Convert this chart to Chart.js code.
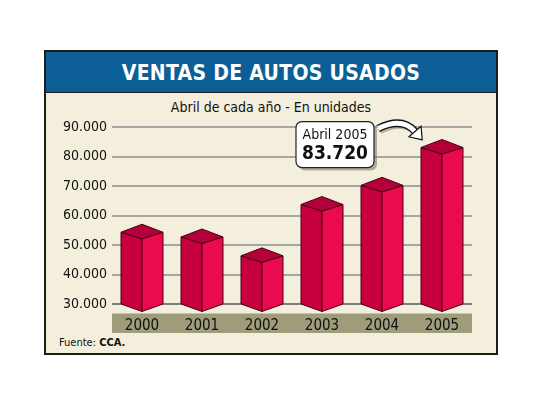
<!DOCTYPE html>
<html>
<head>
<meta charset="utf-8">
<script src="https://cdn.jsdelivr.net/npm/chart.js@4.4.1/dist/chart.umd.min.js"></script>
<style>
  html, body { margin: 0; padding: 0; background: #ffffff; }
  #wrap { position: relative; width: 540px; height: 405px; }
  #frame {
    position: absolute; left: 44px; top: 50px; width: 450px; height: 301px;
    border: 2px solid #1c1c1c; background: #f3efdc;
  }
  #band {
    position: absolute; left: 0; top: 0; width: 450px; height: 40px;
    background: #0b5f96; border-bottom: 1px solid #1c1c1c;
    color: #ffffff; font: bold 21px "DejaVu Sans Condensed", "DejaVu Sans", sans-serif;
    text-align: center; line-height: 42px; letter-spacing: 0.3px;
  }
  #sub {
    position: absolute; left: 0; top: 47px; width: 450px; text-align: center;
    font: 14px "DejaVu Sans Condensed", "DejaVu Sans", sans-serif; color: #111;
  }
  #src {
    position: absolute; left: 13px; top: 284px;
    font: 11px "DejaVu Sans Condensed", "DejaVu Sans", sans-serif; color: #111;
  }
  canvas { position: absolute; left: 0; top: 0; }
</style>
</head>
<body>
<div id="wrap">
  <div id="frame">
    <div id="band">VENTAS DE AUTOS USADOS</div>
    <div id="sub">Abril de cada año - En unidades</div>
    <div id="src">Fuente: <b>CCA.</b></div>
  </div>
  <canvas id="chart" width="540" height="405"></canvas>
</div>
<script>
const years = ["2000", "2001", "2002", "2003", "2004", "2005"];
const sales = [55000, 53400, 47000, 64400, 70900, 83720];
const yMin = 30000;
const yMax = 90000;
const calloutTitle = "Abril 2005";
const calloutValue = "83.720";

const FONT = '"DejaVu Sans Condensed", "DejaVu Sans", sans-serif';

function fmt(v) {
  return v.toLocaleString("de-DE");
}

// olive strip behind the year labels
const yearBand = {
  id: "yearBand",
  beforeDraw(chart) {
    const { ctx, chartArea } = chart;
    ctx.save();
    ctx.fillStyle = "#9e9c7a";
    ctx.fillRect(chartArea.left, chartArea.bottom + 9.5, chartArea.right - chartArea.left, 19.5);
    ctx.restore();
  }
};

// 3d prism bars on top of the invisible chart.js bars
const prisms = {
  id: "prisms",
  afterDatasetsDraw(chart) {
    const { ctx } = chart;
    const yScale = chart.scales.y;
    const base = yScale.getPixelForValue(yMin);
    const meta = chart.getDatasetMeta(0);
    ctx.save();
    ctx.lineJoin = "round";
    ctx.strokeStyle = "#4a0014";
    ctx.lineWidth = 1;
    meta.data.forEach(bar => {
      const cx = bar.x;
      const w = bar.width / 2;
      const top = bar.y + 2;
      const back = 8, front = 6.5;

      // left face
      ctx.beginPath();
      ctx.moveTo(cx - w, top);
      ctx.lineTo(cx, top + front);
      ctx.lineTo(cx, base + front + 1);
      ctx.lineTo(cx - w, base);
      ctx.closePath();
      ctx.fillStyle = "#c70040";
      ctx.fill();
      ctx.stroke();

      // right face
      ctx.beginPath();
      ctx.moveTo(cx + w, top);
      ctx.lineTo(cx, top + front);
      ctx.lineTo(cx, base + front + 1);
      ctx.lineTo(cx + w, base);
      ctx.closePath();
      ctx.fillStyle = "#ea0a4e";
      ctx.fill();
      ctx.stroke();

      // top face
      ctx.beginPath();
      ctx.moveTo(cx - w, top);
      ctx.lineTo(cx, top - back);
      ctx.lineTo(cx + w, top);
      ctx.lineTo(cx, top + front);
      ctx.closePath();
      ctx.fillStyle = "#b3003a";
      ctx.fill();
      ctx.stroke();
    });
    ctx.restore();
  }
};

// label box and arrow for the last year
const callout = {
  id: "callout",
  afterDraw(chart) {
    const { ctx } = chart;
    const meta = chart.getDatasetMeta(0);
    const last = meta.data[meta.data.length - 1];
    const bw = 78, bh = 46;
    const bx = last.x - 107 - bw / 2;
    const by = last.y - 24;

    ctx.save();
    // shadow
    ctx.fillStyle = "rgba(120,115,95,0.55)";
    ctx.beginPath();
    ctx.roundRect(bx + 3, by + 3, bw, bh, 6);
    ctx.fill();
    // box
    ctx.fillStyle = "#ffffff";
    ctx.strokeStyle = "#222222";
    ctx.lineWidth = 1.2;
    ctx.beginPath();
    ctx.roundRect(bx, by, bw, bh, 6);
    ctx.fill();
    ctx.stroke();

    ctx.fillStyle = "#111111";
    ctx.textAlign = "center";
    ctx.textBaseline = "middle";
    ctx.font = "14px " + FONT;
    ctx.fillText(calloutTitle, bx + bw / 2, by + 14);
    ctx.font = "bold 19px " + FONT;
    ctx.fillText(calloutValue, bx + bw / 2, by + 33);

    // curved arrow
    const sx = bx + bw + 4, sy = by + 7;
    const cpx = sx + 24, cpy = sy - 12;
    const ex = last.x - 27, ey = last.y - 14;
    const path = () => {
      ctx.beginPath();
      ctx.moveTo(sx, sy);
      ctx.quadraticCurveTo(cpx, cpy, ex, ey);
    };
    ctx.lineCap = "butt";
    ctx.strokeStyle = "rgba(120,115,95,0.5)";
    ctx.lineWidth = 7;
    ctx.save();
    ctx.translate(2, 2);
    path();
    ctx.stroke();
    ctx.restore();
    ctx.strokeStyle = "#111111";
    ctx.lineWidth = 7.5;
    path();
    ctx.stroke();
    ctx.strokeStyle = "#ffffff";
    ctx.lineWidth = 5;
    path();
    ctx.stroke();

    // head
    const ang = Math.atan2(ey - cpy, ex - cpx);
    const tipX = ex + Math.cos(ang) * 11, tipY = ey + Math.sin(ang) * 11;
    const nx = -Math.sin(ang), ny = Math.cos(ang);
    ctx.beginPath();
    ctx.moveTo(tipX, tipY);
    ctx.lineTo(ex + nx * 8, ey + ny * 8);
    ctx.lineTo(ex - nx * 8, ey - ny * 8);
    ctx.closePath();
    ctx.fillStyle = "#ffffff";
    ctx.strokeStyle = "#111111";
    ctx.lineWidth = 1.2;
    ctx.fill();
    ctx.stroke();
    ctx.restore();
  }
};

new Chart(document.getElementById("chart"), {
  type: "bar",
  data: {
    labels: years,
    datasets: [
      {
        label: "Ventas",
        data: sales,
        backgroundColor: "rgba(0,0,0,0)",
        borderWidth: 0,
        categoryPercentage: 1,
        barPercentage: 0.7
      }
    ]
  },
  plugins: [yearBand, prisms, callout],
  options: {
    responsive: false,
    animation: false,
    devicePixelRatio: 1,
    layout: { padding: { top: 127, right: 68, left: 0, bottom: 0 } },
    plugins: {
      legend: { display: false },
      tooltip: { enabled: false }
    },
    scales: {
      x: {
        grid: { display: false },
        border: { display: false },
        ticks: {
          padding: 5,
          color: "#111111",
          font: { family: FONT, size: 15 }
        },
        afterFit: scale => { scale.height = 101; }
      },
      y: {
        min: yMin,
        max: yMax,
        border: { display: false },
        grid: {
          drawTicks: false,
          color: c => c.tick.value === yMin ? "#7e7e7e" : (c.tick.value % 10000 === 0 ? "#a6a6a2" : "#cdccc2"),
          lineWidth: c => c.tick.value % 10000 === 0 ? 2 : 1
        },
        ticks: {
          stepSize: 5000,
          padding: 5,
          color: "#111111",
          font: { family: FONT, size: 14 },
          callback: v => v % 10000 === 0 ? fmt(v) : ""
        },
        afterFit: scale => { scale.width = 112; }
      }
    }
  }
});
</script>
</body>
</html>
